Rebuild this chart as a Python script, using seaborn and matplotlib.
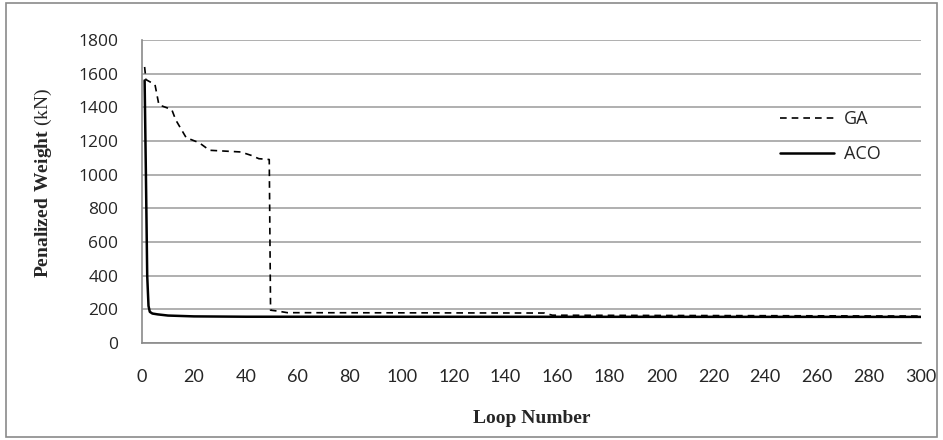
import matplotlib
matplotlib.use("Agg")
import matplotlib.pyplot as plt
import seaborn as sns
import pandas as pd
from matplotlib.patches import Rectangle
from matplotlib import font_manager

# values
ga_loop = [1, 1.5, 5, 6.5, 10, 11.5, 13, 17, 22, 26, 38, 42, 45, 49, 49.5, 52, 56, 155, 158, 300]
ga_weight = [1640, 1565, 1535, 1415, 1395, 1385, 1325, 1220, 1190, 1145, 1135, 1115, 1095, 1090,
             195, 190, 180, 178, 165, 160]
aco_loop = [1, 1.5, 2, 2.5, 3, 4, 6, 10, 20, 40, 300]
aco_weight = [1560, 1000, 400, 220, 185, 175, 170, 163, 158, 156, 155]

x_ticks = list(range(0, 301, 20))
y_ticks = list(range(0, 1801, 200))

sns.set_style("white")
plt.rcParams['font.family'] = ['Open Sans', 'DejaVu Sans']
plt.rcParams['mathtext.fontset'] = 'custom'
plt.rcParams['mathtext.rm'] = 'Liberation Serif'
plt.rcParams['mathtext.bf'] = 'Liberation Serif:bold'

names = {f.name for f in font_manager.fontManager.ttflist}
narrow = 'Liberation Sans Narrow' if 'Liberation Sans Narrow' in names else 'Lato'

df = pd.concat([
    pd.DataFrame({'loop': ga_loop, 'weight': ga_weight, 'algo': 'GA'}),
    pd.DataFrame({'loop': aco_loop, 'weight': aco_weight, 'algo': 'ACO'}),
])

fig = plt.figure(figsize=(9.43, 4.4), dpi=100)
ax = fig.add_axes([0.1506, 0.2205, 0.8261, 0.6885])

sns.lineplot(data=df[df.algo == 'GA'], x='loop', y='weight', ax=ax, color='black',
             lw=1.2, linestyle=(0, (4, 3)), label='GA', estimator=None, sort=False)
sns.lineplot(data=df[df.algo == 'ACO'], x='loop', y='weight', ax=ax, color='black',
             lw=1.8, label='ACO', estimator=None, sort=False)

ax.set_xlim(0, 300)
ax.set_ylim(0, 1800)
ax.set_xticks(x_ticks)
ax.set_yticks(y_ticks)
ax.yaxis.grid(True, color='#9a9a9a', lw=1.1)
ax.set_axisbelow(True)
for s in ['top', 'right']:
    ax.spines[s].set_visible(False)
for s in ['left', 'bottom']:
    ax.spines[s].set_color('#8a8a8a')
    ax.spines[s].set_linewidth(1.2)
ax.tick_params(axis='both', direction='out', length=5, width=1, color='#8a8a8a')
ax.tick_params(axis='y', labelsize=12.5, pad=12)
ax.tick_params(axis='x', pad=14)
for t in ax.get_xticklabels():
    t.set_family(narrow)
    t.set_fontsize(13)

ax.set_xlabel('Loop Number', family='Liberation Serif', fontweight='bold', fontsize=14,
              labelpad=18)
ax.set_ylabel('')
fig.text(0.046, 0.585, r'$\mathbf{Penalized\ Weight}$ (kN)', family='Liberation Serif',
         fontsize=14, rotation=90, ha='center', va='center')

ax.legend(loc='upper left', bbox_to_anchor=(0.81, 0.787), bbox_transform=fig.transFigure,
          frameon=False, fontsize=13, handlelength=3.0, labelspacing=0.95, handletextpad=0.55)

fig.patches.append(Rectangle((0.006, 0.006), 0.988, 0.988, transform=fig.transFigure,
                             fill=False, edgecolor='#8a8a8a', lw=1.2))

fig.savefig('out.png', dpi=100)
